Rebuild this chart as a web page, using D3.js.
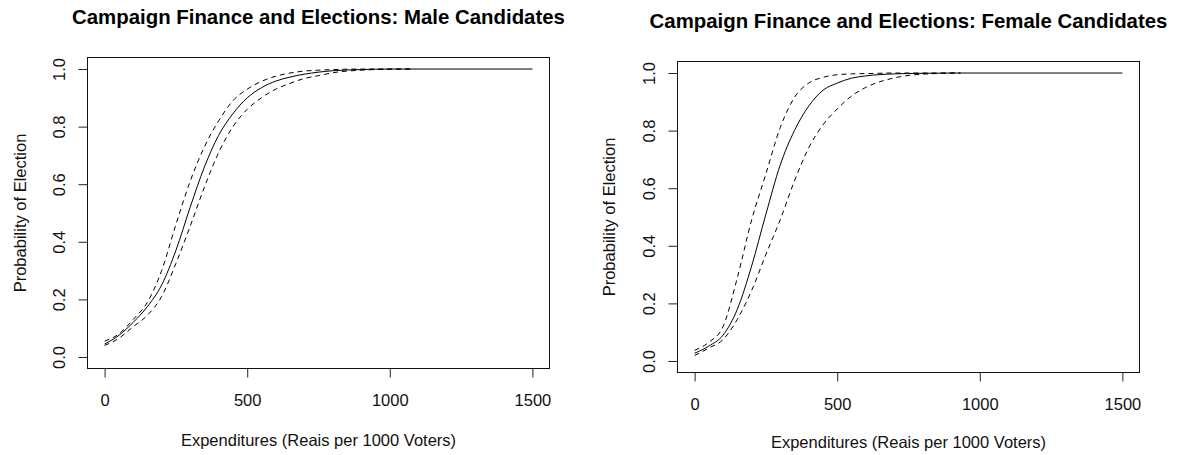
<!DOCTYPE html>
<meta charset="utf-8">
<head>
  <title>Campaign Finance and Elections</title>
</head>

<style>
  body { margin: 0; background: white; }
  text { font-family: "Liberation Sans", Arial, sans-serif; fill: #000; }
  .title { font-size: 20.4px; font-weight: bold; text-anchor: middle; }
  .axis text { font-size: 16.5px; fill: #111; }
  .axis line { stroke: #222; }
  .lab { font-size: 16.5px; text-anchor: middle; fill: #111; }
  .box { fill: none; stroke: #111; stroke-width: 1; }
  .fit, .band { fill: none; stroke: #000; stroke-width: 1; }
  .band { stroke-dasharray: 5,4; }
</style>

<body>
<script src="https://d3js.org/d3.v7.min.js"></script>
<div id="chart"></div>
<script>

var expendTicks = [0, 500, 1000, 1500];
var probTicks = [0, 0.2, 0.4, 0.6, 0.8, 1.0];

// male candidates: fitted probability and dashed bounds
var maleFitX = [0, 50, 100, 150, 200, 250, 300, 350, 400, 450, 500, 550, 600, 650, 700, 800, 900, 1000, 1500];
var maleFitP = [0.045, 0.075, 0.12, 0.175, 0.25, 0.37, 0.52, 0.66, 0.77, 0.845, 0.9, 0.935, 0.958, 0.972, 0.982, 0.994, 0.998, 1.0, 1.0];
var maleBandX = [0, 50, 100, 150, 200, 250, 300, 350, 400, 450, 500, 550, 600, 650, 700, 750, 800, 900, 1000, 1080];
var maleUpper = [0.055, 0.08, 0.13, 0.19, 0.30, 0.46, 0.61, 0.73, 0.82, 0.89, 0.93, 0.957, 0.975, 0.986, 0.993, 0.996, 0.998, 1.0, 1.0, 1.0];
var maleLower = [0.04, 0.065, 0.105, 0.145, 0.21, 0.325, 0.454, 0.59, 0.71, 0.80, 0.86, 0.90, 0.93, 0.95, 0.967, 0.977, 0.987, 0.996, 0.999, 1.0];

// female candidates
var femaleFitX = [0, 50, 100, 150, 200, 250, 300, 350, 400, 450, 500, 550, 600, 700, 800, 900, 1500];
var femaleFitP = [0.027, 0.052, 0.09, 0.18, 0.33, 0.51, 0.68, 0.80, 0.885, 0.94, 0.965, 0.982, 0.99, 0.997, 0.999, 1.0, 1.0];
var femaleBandX = [0, 50, 100, 150, 200, 250, 300, 350, 400, 450, 500, 550, 600, 700, 800, 932];
var femaleUpper = [0.037, 0.065, 0.12, 0.29, 0.49, 0.65, 0.81, 0.915, 0.965, 0.985, 0.994, 0.997, 0.998, 1.0, 1.0, 1.0];
var femaleLower = [0.019, 0.045, 0.075, 0.145, 0.245, 0.37, 0.49, 0.625, 0.74, 0.82, 0.875, 0.92, 0.95, 0.983, 0.996, 1.0];

var plotW = 462, plotH = 311;

var panels = [
  { title: "Campaign Finance and Elections: Male Candidates",
    fitX: maleFitX, fitP: maleFitP, bandX: maleBandX, upper: maleUpper, lower: maleLower,
    left: 87.5, top: 57.5, titleY: 24, xlabY: 445.5, ylabX: 20 },
  { title: "Campaign Finance and Elections: Female Candidates",
    fitX: femaleFitX, fitP: femaleFitP, bandX: femaleBandX, upper: femaleUpper, lower: femaleLower,
    left: 677.5, top: 61.5, titleY: 28, xlabY: 448, ylabX: 609 }
];

var svg = d3.select("#chart")
  .append("svg")
  .attr("width", 1178)
  .attr("height", 455);

panels.forEach(draw);

function draw(p) {
  var x = d3.scaleLinear().domain([-60, 1560]).range([p.left, p.left + plotW]);
  var y = d3.scaleLinear().domain([-0.04, 1.04]).range([p.top + plotH, p.top]);

  var g = svg.append("g");

  var line = d3.line()
    .curve(d3.curveMonotoneX)
    .x(function(d) { return x(d[0]); })
    .y(function(d) { return y(d[1]); });

  g.append("path")
    .attr("class", "fit")
    .attr("d", line(d3.zip(p.fitX, p.fitP)));

  g.append("path")
    .attr("class", "band")
    .attr("d", line(d3.zip(p.bandX, p.upper)));

  g.append("path")
    .attr("class", "band")
    .attr("d", line(d3.zip(p.bandX, p.lower)));

  g.append("rect")
    .attr("class", "box")
    .attr("x", p.left)
    .attr("y", p.top)
    .attr("width", plotW)
    .attr("height", plotH);

  var xa = g.append("g")
    .attr("class", "axis")
    .attr("transform", "translate(0," + (p.top + plotH) + ")")
    .call(d3.axisBottom(x).tickValues(expendTicks).tickSize(9).tickPadding(16.5).tickFormat(d3.format("d")));
  xa.select(".domain").remove();
  xa.selectAll("text").attr("font-family", null).attr("font-size", null);

  var ya = g.append("g")
    .attr("class", "axis")
    .attr("transform", "translate(" + p.left + ",0)")
    .call(d3.axisLeft(y).tickValues(probTicks).tickSize(9).tickFormat(d3.format(".1f")));
  ya.select(".domain").remove();
  ya.selectAll("text")
    .attr("font-family", null).attr("font-size", null)
    .attr("x", null)
    .attr("dy", "0.35em")
    .attr("text-anchor", "middle")
    .attr("transform", "translate(-28,0) rotate(-90)");

  g.append("text")
    .attr("class", "title")
    .attr("x", p.left + plotW / 2)
    .attr("y", p.titleY)
    .text(p.title);

  g.append("text")
    .attr("class", "lab")
    .attr("x", p.left + plotW / 2)
    .attr("y", p.xlabY)
    .text("Expenditures (Reais per 1000 Voters)");

  g.append("text")
    .attr("class", "lab")
    .attr("transform", "translate(" + p.ylabX + "," + (p.top + plotH / 2) + ") rotate(-90)")
    .attr("dy", "0.35em")
    .text("Probability of Election");
}

</script>
</body>
</html>
